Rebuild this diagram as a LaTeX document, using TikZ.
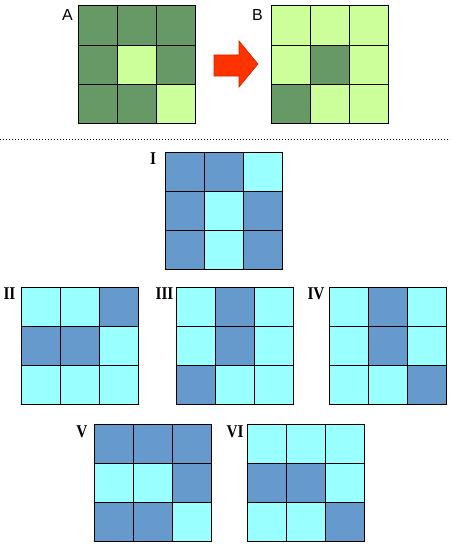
\documentclass[tikz,border=0pt]{standalone}
\usepackage{fontspec}
\setmainfont{Liberation Sans}
\newfontfamily\numfont{Liberation Serif}
\definecolor{dgreen}{HTML}{669966}
\definecolor{lgreen}{HTML}{CCFF99}
\definecolor{dblue}{HTML}{6699CC}
\definecolor{lcyan}{HTML}{99FFFF}
\definecolor{arrowred}{HTML}{FF3300}
\definecolor{arrowedge}{HTML}{CC2200}
\tikzset{
  cellbox/.style={draw=black, line width=1pt},
  letterlbl/.style={inner sep=0pt, font=\fontsize{16}{16}\selectfont},
  romanlbl/.style={inner sep=0pt, font=\numfont\bfseries\fontsize{18}{18}\selectfont, xscale=0.85},
  sep/.style={line width=0.8pt, dash pattern=on 1pt off 2pt},
}
\newcommand{\mygrid}[5]{% x, y, dark, light, pattern
  \foreach \v [count=\i from 0] in {#5} {
    \pgfmathtruncatemacro{\cc}{mod(\i,3)}
    \pgfmathtruncatemacro{\rr}{int(\i/3)}
    \ifnum\v=1 \def\fc{#3}\else \def\fc{#4}\fi
    \draw[cellbox, fill=\fc] ({#1+\cc*39.33},{#2+\rr*39.33}) rectangle ++(39.33,39.33);
  }
}
\begin{document}
\begin{tikzpicture}[x=1pt, y=-1pt]
\useasboundingbox (0,0) rectangle (450,551);
% top grids
\mygrid{78}{6}{dgreen}{lgreen}{1,1,1,1,0,1,1,1,0}
\mygrid{271}{6}{dgreen}{lgreen}{0,0,0,0,1,0,1,0,0}
\node[letterlbl] (lA) at (67.5,15) {A};
\node[letterlbl] (lB) at (257.5,15) {B};
% arrow
\draw[fill=arrowred, draw=arrowedge, line width=0.6pt]
  (214,55) -- (239,55) -- (239,41) -- (258,64) -- (239,87) -- (239,76) -- (214,76) -- cycle;
% separator
\coordinate (sepL) at (0,139);
\coordinate (sepR) at (450,139);
\draw[sep] (sepL) -- (sepR);
% options
\mygrid{165}{152}{dblue}{lcyan}{1,1,0,1,0,1,1,0,1}
\mygrid{21}{287}{dblue}{lcyan}{0,0,1,1,1,0,0,0,0}
\mygrid{176}{287}{dblue}{lcyan}{0,1,0,0,1,0,1,0,0}
\mygrid{329}{287}{dblue}{lcyan}{0,1,0,0,1,0,0,0,1}
\mygrid{94}{424}{dblue}{lcyan}{1,1,1,0,0,1,1,1,0}
\mygrid{247}{424}{dblue}{lcyan}{0,0,0,1,1,0,0,0,1}
\node[romanlbl] (l1) at (153,159) {I};
\node[romanlbl] (l2) at (9.5,294) {II};
\node[romanlbl] (l3) at (164.5,294) {III};
\node[romanlbl] (l4) at (316,294) {IV};
\node[romanlbl] (l5) at (82,432) {V};
\node[romanlbl] (l6) at (235,432) {VI};
\end{tikzpicture}
\end{document}
